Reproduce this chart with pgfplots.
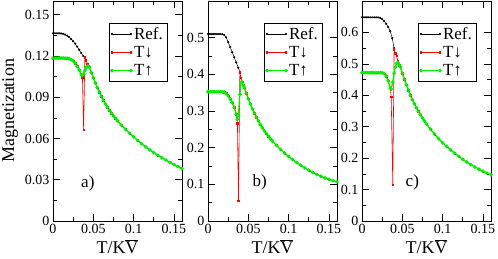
\documentclass[border=0pt]{standalone}
\usepackage{pgfplots}
\pgfplotsset{compat=1.18}
\usepackage{pgfplotstable}
\usepackage{fontspec}
\setmainfont{Liberation Serif}
\definecolor{mgreen}{RGB}{0,240,0}
\definecolor{mred}{RGB}{255,0,0}

\pgfplotstableread{
T ref
0      .1365
0.0025 .1365
0.005  .1365
0.0075 .1365
0.01   .1364
0.0125 .1361
0.015  .1356
0.0175 .1348
0.02   .1337
0.0225 .1323
0.025  .1307
0.0275 .1289
0.03   .1268
0.0325 .1245
0.035  .1222
0.0375 .1200
0.0395 .1185
}\refa
\pgfplotstableread{
T up down
0      .1185 .1185
0.0025 .1185 .1185
0.005  .1185 .1185
0.0075 .1185 .1185
0.01   .1185 .1185
0.0125 .1185 .1185
0.015  .1184 .1184
0.0175 .1183 .1183
0.02   .1180 .1180
0.0225 .1174 .1174
0.025  .1164 .1164
0.0275 .1148 .1148
0.03   .1126 .1126
0.0325 .1098 .1098
0.035  .1065 .1065
0.0365 .1058 .1045
0.038  .1068 .0662
0.0395 .1092 .1190
0.041  .1115 .1170
0.0425 .1126 .1145
0.044  .1125 .1130
0.045  .1120 .1120
0.0475 .1080 .1080
0.05   .1042 .1042
0.0525 .1005 .1005
0.055  .0970 .0970
0.0575 .0937 .0937
0.06   .0906 .0906
0.0625 .0878 .0878
0.065  .0851 .0851
0.0675 .0827 .0827
0.07   .0805 .0805
0.0725 .0784 .0784
0.075  .0765 .0765
0.0775 .0747 .0747
0.08   .0729 .0729
0.085  .0696 .0696
0.09   .0666 .0666
0.095  .0638 .0638
0.1    .0612 .0612
0.105  .0586 .0586
0.11   .0562 .0562
0.115  .0539 .0539
0.12   .0517 .0517
0.125  .0497 .0497
0.13   .0478 .0478
0.135  .0460 .0460
0.14   .0443 .0443
0.145  .0426 .0426
0.15   .0410 .0410
0.155  .0395 .0395
0.16   .0381 .0381
}\dataa

\pgfplotstableread{
T ref
0      .5100
0.0025 .5100
0.005  .5100
0.0075 .5100
0.01   .5100
0.0125 .5100
0.015  .5100
0.0175 .5095
0.02   .5075
0.0225 .5010
0.025  .4880
0.0275 .4745
0.03   .4605
0.0325 .4465
0.035  .4325
0.0375 .4180
0.0395 .4060
}\refb
\pgfplotstableread{
T up down
0      .3525 .3525
0.0025 .3525 .3525
0.005  .3525 .3525
0.0075 .3525 .3525
0.01   .3525 .3525
0.0125 .3525 .3525
0.015  .3525 .3525
0.0175 .3524 .3524
0.02   .3515 .3515
0.0225 .3480 .3480
0.025  .3415 .3415
0.0275 .3330 .3330
0.03   .3230 .3230
0.0325 .3100 .3100
0.035  .2910 .2910
0.0365 .2770 .2660
0.0378 .2880 .0545
0.0395 .3450 .4060
0.041  .3780 .3900
0.0425 .3790 .3800
0.044  .3700 .3710
0.045  .3640 .3640
0.0475 .3480 .3480
0.05   .3330 .3330
0.0525 .3190 .3190
0.055  .3060 .3060
0.0575 .2940 .2940
0.06   .2830 .2830
0.0625 .2725 .2725
0.065  .2630 .2630
0.0675 .2542 .2542
0.07   .2460 .2460
0.0725 .2383 .2383
0.075  .2310 .2310
0.0775 .2243 .2243
0.08   .2180 .2180
0.085  .2060 .2060
0.09   .1950 .1950
0.095  .1850 .1850
0.1    .1760 .1760
0.105  .1675 .1675
0.11   .1595 .1595
0.115  .1520 .1520
0.12   .1450 .1450
0.125  .1385 .1385
0.13   .1325 .1325
0.135  .1270 .1270
0.14   .1220 .1220
0.145  .1175 .1175
0.15   .1135 .1135
0.155  .1100 .1100
0.16   .1070 .1070
}\datab

\pgfplotstableread{
T ref
0      .6480
0.0025 .6480
0.005  .6480
0.0075 .6480
0.01   .6480
0.0125 .6480
0.015  .6480
0.0175 .6480
0.02   .6478
0.0225 .6465
0.025  .6425
0.0275 .6360
0.03   .6275
0.0325 .6170
0.035  .6040
0.0375 .5820
0.0398 .5500
}\refc
\pgfplotstableread{
T up down
0      .4720 .4720
0.0025 .4720 .4720
0.005  .4720 .4720
0.0075 .4720 .4720
0.01   .4720 .4720
0.0125 .4720 .4720
0.015  .4720 .4720
0.0175 .4720 .4720
0.02   .4720 .4720
0.0225 .4720 .4720
0.025  .4715 .4715
0.0275 .4685 .4685
0.03   .4610 .4610
0.0325 .4460 .4460
0.035  .4230 .4230
0.0362 .4195 .3960
0.0382 .4420 .1145
0.0398 .4700 .5460
0.0413 .4900 .5340
0.0428 .5010 .5250
0.0445 .5040 .5100
0.0465 .4960 .4960
0.0475 .4900 .4900
0.05   .4700 .4700
0.0525 .4510 .4510
0.055  .4330 .4330
0.0575 .4160 .4160
0.06   .4000 .4000
0.0625 .3860 .3860
0.065  .3730 .3730
0.0675 .3607 .3607
0.07   .3490 .3490
0.0725 .3382 .3382
0.075  .3280 .3280
0.0775 .3182 .3182
0.08   .3090 .3090
0.085  .2920 .2920
0.09   .2765 .2765
0.095  .2620 .2620
0.1    .2490 .2490
0.105  .2370 .2370
0.11   .2260 .2260
0.115  .2155 .2155
0.12   .2055 .2055
0.125  .1960 .1960
0.13   .1875 .1875
0.135  .1795 .1795
0.14   .1720 .1720
0.145  .1650 .1650
0.15   .1585 .1585
0.155  .1525 .1525
0.16   .1470 .1470
}\datac

\pgfplotsset{
  panel/.style={
    scale only axis, width=129pt, height=220pt,
    xmin=0, xmax=0.16,
    xtick={0,0.05,0.1,0.15}, xticklabels={0,0.05,0.1,0.15},
    minor x tick num=1, minor y tick num=1,
    tick align=inside, major tick length=7pt, minor tick length=4pt,
    tick style={black, line width=0.6pt},
    axis line style={line width=0.8pt},
    every tick label/.append style={font=\fontsize{14}{16}\selectfont},
    label style={font=\fontsize{18}{20}\selectfont},
    xlabel={T/K$\overline{\mbox{V}}$},
    xlabel style={at={(axis description cs:0.5,-0.118)}, anchor=center},
    legend style={at={(rel axis cs:0.884,0.9)}, anchor=north east, draw=black,
      font=\fontsize{17}{19}\selectfont, inner sep=2pt, row sep=1.5pt,
      cells={anchor=west}},
    legend cell align=left,
    legend image code/.code={\draw[##1] plot coordinates {(0pt,0pt) (19pt,0pt)};},
  },
  sref/.style={black, line width=0.5pt, mark=*, mark size=0.8pt},
  sdown/.style={mred, line width=0.6pt, mark=square*, mark size=0.7pt},
  sup/.style={mgreen, line width=1.3pt, mark=*, mark size=1.1pt},
}

\begin{document}
\begin{tikzpicture}
\path[use as bounding box] (-53pt,-37pt) rectangle (445pt,221pt);
\begin{axis}[panel, at={(0pt,0pt)}, anchor=south west,
  ymin=0, ymax=0.16,
  ytick={0,0.03,0.06,0.09,0.12,0.15}, yticklabels={0,0.03,0.06,0.09,0.12,0.15},
  ylabel={Magnetization},
  ylabel style={at={(axis description cs:-0.333,0.5)}, anchor=center, rotate=0}]
\addplot[sref] table[x=T,y=ref] {\refa};
\addplot[sdown] table[x=T,y=down] {\dataa};
\addplot[sup] table[x=T,y=up] {\dataa};
\legend{Ref.,T↓,T↑}
\node[font=\fontsize{17}{19}\selectfont] at (rel axis cs:0.27,0.17) {a)};
\end{axis}
\begin{axis}[panel, at={(155pt,0pt)}, anchor=south west,
  ymin=0, ymax=0.6,
  ytick={0,0.1,0.2,0.3,0.4,0.5}, yticklabels={0,0.1,0.2,0.3,0.4,0.5}]
\addplot[sref] table[x=T,y=ref] {\refb};
\addplot[sdown] table[x=T,y=down] {\datab};
\addplot[sup] table[x=T,y=up] {\datab};
\legend{Ref.,T↓,T↑}
\node[font=\fontsize{17}{19}\selectfont] at (rel axis cs:0.40,0.177) {b)};
\end{axis}
\begin{axis}[panel, at={(309pt,0pt)}, anchor=south west,
  ymin=0, ymax=0.7,
  ytick={0,0.1,0.2,0.3,0.4,0.5,0.6}, yticklabels={0,0.1,0.2,0.3,0.4,0.5,0.6}]
\addplot[sref] table[x=T,y=ref] {\refc};
\addplot[sdown] table[x=T,y=down] {\datac};
\addplot[sup] table[x=T,y=up] {\datac};
\legend{Ref.,T↓,T↑}
\node[font=\fontsize{17}{19}\selectfont] at (rel axis cs:0.39,0.177) {c)};
\end{axis}
\end{tikzpicture}
\end{document}
